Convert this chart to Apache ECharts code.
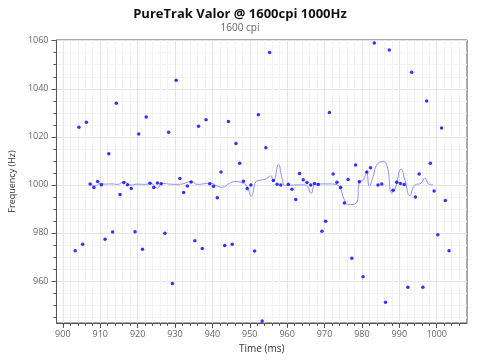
<!DOCTYPE html>
<html><head><meta charset="utf-8">
<script src="https://cdn.jsdelivr.net/npm/echarts@6/dist/echarts.min.js"></script>
<style>html,body{margin:0;padding:0;background:#fff}#c{width:480px;height:360px}</style>
</head><body><div id="c"></div>
<script>
const pointTimes = [903.3,904.3,905.3,906.3,907.3,908.3,909.3,910.3,911.3,912.3,913.3,914.3,915.3,916.3,917.3,918.3,919.3,920.3,921.3,922.3,923.3,924.3,925.3,926.3,927.3,928.3,929.3,930.3,931.3,932.3,933.3,934.3,935.3,936.3,937.3,938.3,939.3,940.3,941.3,942.3,943.3,944.3,945.3,946.3,947.3,948.3,949.3,950.3,951.3,952.3,953.3,954.3,955.3,956.3,957.3,958.3,960.3,961.3,962.3,963.3,964.3,965.3,966.3,967.3,968.3,969.3,970.3,971.3,972.3,973.3,974.3,975.3,976.3,977.3,978.3,979.3,980.3,981.3,982.3,983.3,984.3,985.3,986.3,987.3,988.3,989.3,990.3,991.3,992.3,993.3,994.3,995.3,996.3,997.3,998.3,999.3,1000.3,1001.3,1002.3,1003.3];
const pointHz = [972.6,1024.0,975.3,1026.1,1000.4,998.9,1001.4,1000.0,977.4,1012.9,980.4,1034.0,996.0,1001.0,1000.0,998.5,980.5,1021.2,973.2,1028.2,1000.7,998.9,1000.8,1000.5,979.9,1021.9,958.9,1043.5,1002.6,996.8,999.5,1001.2,976.7,1024.4,973.5,1027.1,1000.5,999.4,994.6,1005.4,974.8,1026.4,975.3,1017.2,1009.0,1001.5,998.5,999.9,972.5,1029.2,943.3,1015.5,1055.1,1001.8,1000.3,999.9,1000.3,998.2,993.9,1004.7,1002.1,1001.0,999.9,1000.6,1000.1,980.7,984.9,1030.1,1004.5,1001.1,998.9,992.4,1002.2,969.5,1008.3,1001.3,961.7,1005.4,1007.1,1059.0,999.9,1000.4,951.1,1056.1,997.8,1001.1,1000.6,1000.1,957.4,1046.9,994.9,1004.5,957.4,1034.9,1009.0,997.4,979.2,1023.7,993.5,972.6];

const lineTimes = [907.3,908.6,910,911.5,913,914.5,916.5,918,920,922,923.5,925.3,926.5,928.5,930.5,932,934.3,936,938,939.6,941,942.7,944.5,946,948,949.2,950.4,951.7,953,954.5,955.6,956.3,957.7,958.6,959.5,961,963,965,966.4,967.5,969,971,973,974.2,975.1,976.4,978.5,979.4,980.4,981.2,982,983,984.2,985.8,986.8,988,988.8,990.5,991.5,992.8,994.1,995.8,996.8,998,999];
const lineHz = [1000.4,999.6,1000.6,1000.3,1000.4,1000.2,1001.2,999.9,1000.3,1000.2,1000.6,998.6,1000.7,1000.3,1000.2,1000.4,1001.4,1000.2,1000.5,1000.7,999.7,999.0,1000.6,1001.4,1000.8,999.5,995.3,1001.4,1002,1002.5,1003.8,1001.5,1008.5,1003,999.7,999.8,1000,999.9,996.5,1000.3,1000.4,1000.4,1000.2,998.6,994.5,991.8,992.4,1001.4,1002,1005.5,999.5,1003.5,1008.8,1009.7,1007.5,996.5,998,1006.5,1002,995.5,999.8,1000.7,1002.8,1000.2,1000];

const xMajor = [900,910,920,930,940,950,960,970,980,990,1000];
const xMinor = [902,904,906,908,912,914,916,918,922,924,926,928,932,934,936,938,942,944,946,948,952,954,956,958,962,964,966,968,972,974,976,978,982,984,986,988,992,994,996,998,1002,1004,1006];
const yMajor = [960,980,1000,1020,1040,1060];
const yMinor = [945,950,955,965,970,975,985,990,995,1005,1010,1015,1025,1030,1035,1045,1050,1055];

const X_MIN = 898.3, X_MAX = 1008.1, Y_MIN = 942.5, Y_MAX = 1060.3;
const font = 'Open Sans';
const axisCol = '#555';
const plain = v => String(Math.round(v));

const scatterData = pointTimes.map((t,i)=>[t,pointHz[i]]);
const lineData = lineTimes.map((t,i)=>[t,lineHz[i]]);

const chart = echarts.init(document.getElementById('c'), null, {renderer:'canvas'});
chart.setOption({
  animation:false,
  backgroundColor:'#fff',
  title:{
    text:'PureTrak Valor @ 1600cpi 1000Hz',
    subtext:'1600 cpi',
    left:'center', top:3, itemGap:2,
    textStyle:{fontFamily:font,fontSize:13,fontWeight:'bold',color:'#111'},
    subtextStyle:{fontFamily:font,fontSize:10,color:'#666'}
  },
  grid:{left:44,right:13,top:40,bottom:37,show:true,borderColor:axisCol,borderWidth:1,backgroundColor:'transparent'},
  xAxis:[
    {type:'value',min:X_MIN,max:X_MAX,position:'bottom',
     name:'Time (ms)',nameLocation:'middle',nameGap:17,
     nameTextStyle:{fontFamily:font,fontSize:10,color:'#333'},
     axisLine:{show:true,onZero:false,lineStyle:{color:axisCol}},
     axisTick:{show:true,length:5,customValues:xMajor,lineStyle:{color:axisCol}},
     axisLabel:{show:true,customValues:xMajor,formatter:plain,fontFamily:font,fontSize:9,color:'#666',margin:7},
     splitLine:{show:true,lineStyle:{color:'#e4e4e4',width:1}}
    },
    {type:'value',min:X_MIN,max:X_MAX,position:'bottom',
     axisLine:{show:false},
     axisTick:{show:true,length:3,customValues:xMinor,lineStyle:{color:axisCol}},
     axisLabel:{show:false},
     splitLine:{show:true,lineStyle:{color:'#f2f2f2',width:1}}
    }
  ],
  yAxis:[
    {type:'value',min:Y_MIN,max:Y_MAX,position:'left',
     name:'Frequency (Hz)',nameLocation:'middle',nameGap:30,
     nameTextStyle:{fontFamily:font,fontSize:9,color:'#333'},
     axisLine:{show:true,onZero:false,lineStyle:{color:axisCol}},
     axisTick:{show:true,length:5,customValues:yMajor,lineStyle:{color:axisCol}},
     axisLabel:{show:true,customValues:yMajor,formatter:plain,fontFamily:font,fontSize:9,color:'#666',margin:8},
     splitLine:{show:true,lineStyle:{color:'#e4e4e4',width:1}}
    },
    {type:'value',min:Y_MIN,max:Y_MAX,position:'left',
     axisLine:{show:false},
     axisTick:{show:true,length:3,customValues:yMinor,lineStyle:{color:axisCol}},
     axisLabel:{show:false},
     splitLine:{show:true,lineStyle:{color:'#f2f2f2',width:1}}
    }
  ],
  series:[
    {type:'line',data:lineData,smooth:0.5,showSymbol:false,symbol:'none',
     lineStyle:{color:'#8f8fff',width:1},z:2,xAxisIndex:0,yAxisIndex:0},
    {type:'scatter',data:scatterData,symbol:'circle',symbolSize:3.5,
     itemStyle:{color:'#0000ff'},z:3,xAxisIndex:0,yAxisIndex:0}
  ]
});
</script></body></html>
